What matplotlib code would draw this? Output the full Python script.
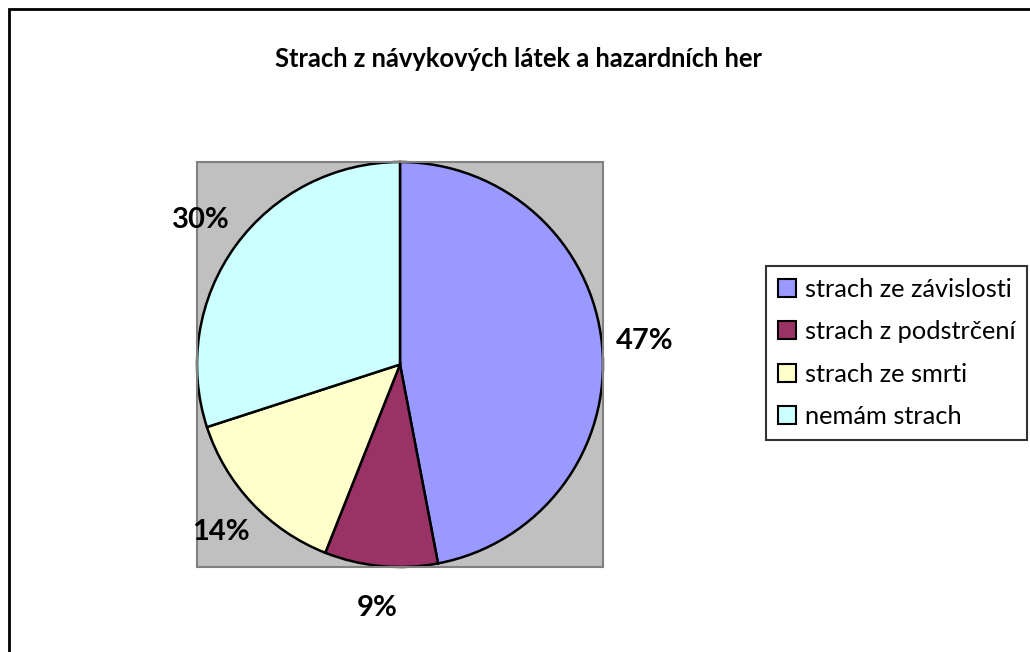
import matplotlib
matplotlib.use("Agg")
import matplotlib.pyplot as plt
from matplotlib.patches import Patch, Rectangle

# data
kategorie = ["strach ze závislosti", "strach z podstrčení", "strach ze smrti", "nemám strach"]
hodnoty = [47, 9, 14, 30]
barvy = ["#9999FF", "#993366", "#FFFFCC", "#CCFFFF"]
nadpis = "Strach z návykových látek a hazardních her"

plt.rcParams['font.family'] = ['Lato', 'DejaVu Sans']

W, H = 1030, 652
fig = plt.figure(figsize=(W / 100, H / 100), dpi=100)

# black frame around the chart area (runs off the right and bottom edge)
fig.patches.append(Rectangle((9 / W, -0.1), 1.2, 1 - 9 / H + 0.1, transform=fig.transFigure,
                             fill=False, edgecolor="black", linewidth=2))

fig.text(518 / W, 1 - 67 / H, nadpis, ha="center", va="baseline", fontsize=18.4, fontweight="bold")

# grey plot area, in pixels
ax = fig.add_axes([197 / W, 1 - 567 / H, 406 / W, 405 / H])
wedges, _, texty = ax.pie(hodnoty, colors=barvy, startangle=90, counterclock=False,
                          radius=1.0, frame=True,
                          wedgeprops=dict(edgecolor="black", linewidth=1.8),
                          autopct=lambda p: "%d%%" % round(p), pctdistance=1.21,
                          textprops=dict(fontsize=21, fontweight="bold"))
for t in texty:
    t.set_clip_on(False)
ax.set_facecolor("#C0C0C0")
for s in ax.spines.values():
    s.set_color("#808080")
    s.set_linewidth(1.5)
ax.set_xlim(-1, 1)
ax.set_ylim(-1, 1)
ax.set_aspect("auto")
ax.set_xticks([])
ax.set_yticks([])

handles = [Patch(facecolor=c, edgecolor="black", linewidth=1.5) for c in barvy]
leg = fig.legend(handles, kategorie, loc="upper left",
                 bbox_to_anchor=(766 / W, 1 - 266 / H), fontsize=18.3,
                 frameon=True, fancybox=False, handlelength=0.71, handleheight=0.71,
                 handletextpad=0.35, labelspacing=0.76, borderpad=0.47, borderaxespad=0)
leg.get_frame().set_edgecolor("black")
leg.get_frame().set_linewidth(1.5)

fig.savefig("out.png", dpi=100)
